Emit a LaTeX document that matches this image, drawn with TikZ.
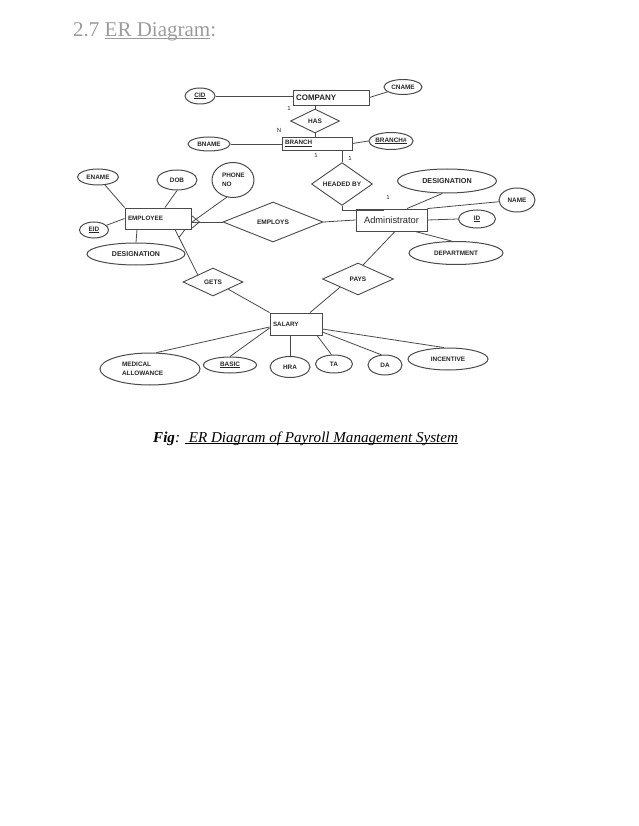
\documentclass[tikz,border=0pt]{standalone}
\usepackage{fontspec}
\setmainfont{Liberation Serif}
\newfontfamily\erfont{Liberation Sans}
\usetikzlibrary{shapes.geometric}
\definecolor{ln}{HTML}{4A4A4A}
\definecolor{txt}{HTML}{262626}
\definecolor{titlegray}{HTML}{9C9C9C}
\begin{document}
\begin{tikzpicture}[x=1pt,y=-1pt,
  attr/.style={draw=ln, line width=1pt, ellipse, inner sep=0pt, text=txt,
    font=\erfont\bfseries\fontsize{6.4}{9}\selectfont},
  ent/.style={draw=ln, line width=0.9pt, rectangle, inner xsep=3pt, inner ysep=0pt, text=txt, align=left,
    font=\erfont\bfseries\fontsize{6.3}{7.5}\selectfont},
  rel/.style={draw=ln, line width=0.9pt, diamond, inner sep=0pt, text=txt,
    font=\erfont\bfseries\fontsize{6.5}{7.5}\selectfont},
  conn/.style={draw=ln, line width=0.8pt},
  card/.style={inner sep=0pt, text=txt, font=\erfont\fontsize{6}{6}\selectfont}]
\fill[white] (0,0) rectangle (638,826);
\useasboundingbox (0,0) rectangle (638,826);

% title
\node[anchor=base west, inner sep=0pt, text=titlegray, font=\fontsize{21}{24}\selectfont] (title) at (73,37) {2.7 \underline{\smash{ER Diagram}}:};

% entities
\node[ent, minimum width=76pt, minimum height=15pt, text width=70pt, font=\erfont\bfseries\fontsize{8}{9}\selectfont] (company) at (331,97.5) {COMPANY};
\node[ent, minimum width=70pt, minimum height=13pt, text width=64pt] (branch) at (317,143.5) {\underline{BRANCH}};
\node[ent, minimum width=66pt, minimum height=21pt, text width=60pt] (emp) at (158,218.5) {EMPLOYEE\\[4pt]};
\node[ent, minimum width=71pt, minimum height=22pt, align=center, font=\erfont\fontsize{9.3}{10}\selectfont] (admin) at (391.5,220) {Administrator};
\node[ent, minimum width=52pt, minimum height=22pt, text width=46pt] (salary) at (296,324) {SALARY\\[3pt]};

% relationships
\node[rel, minimum width=49pt, minimum height=24pt] (has) at (315,121) {HAS};
\node[rel, minimum width=61pt, minimum height=25pt] (headed) at (342,184) {HEADED BY};
\node[rel, minimum width=100pt, minimum height=40pt] (employs) at (273,222) {EMPLOYS};
\node[rel, minimum width=60pt, minimum height=28pt] (gets) at (213,282) {GETS};
\node[rel, minimum width=71pt, minimum height=32pt] (pays) at (358,279) {PAYS};

% attributes
\node[attr, minimum width=30pt, minimum height=16pt] (cid) at (200,96) {\underline{CID}};
\node[attr, minimum width=38pt, minimum height=15pt] (cname) at (403,87) {CNAME};
\node[attr, minimum width=42pt, minimum height=14pt] (bname) at (209,144) {BNAME};
\node[attr, minimum width=43pt, minimum height=17pt] (branchno) at (391,141) {\underline{BRANCH\#}};
\node[attr, minimum width=41pt, minimum height=16pt] (ename) at (98,177) {ENAME};
\node[attr, minimum width=40pt, minimum height=20pt] (dob) at (177,180) {DOB};
\node[attr, minimum width=42pt, minimum height=35pt, text width=22pt, align=left] (phone) at (233,180) {PHONE\\NO};
\node[attr, minimum width=29pt, minimum height=16pt] (eid) at (94,230) {\underline{EID}};
\node[attr, minimum width=98pt, minimum height=22pt, font=\erfont\bfseries\fontsize{7}{9}\selectfont] (desigL) at (136,254) {DESIGNATION};
\node[attr, minimum width=99pt, minimum height=24pt, font=\erfont\bfseries\fontsize{7.2}{9}\selectfont] (desigR) at (447,181) {DESIGNATION};
\node[attr, minimum width=36pt, minimum height=24pt] (name) at (517,200) {NAME};
\node[attr, minimum width=37pt, minimum height=18pt] (id) at (477,219) {\underline{ID}};
\node[attr, minimum width=94pt, minimum height=23pt] (dept) at (456,253) {DEPARTMENT};
\node[attr, minimum width=100pt, minimum height=32pt, text width=56pt, align=left] (med) at (150,369) {MEDICAL\\ALLOWANCE};
\node[attr, minimum width=53pt, minimum height=16pt] (basic) at (230,365) {\underline{BASIC}};
\node[attr, minimum width=40pt, minimum height=21pt] (hra) at (290,367) {HRA};
\node[attr, minimum width=37pt, minimum height=18pt] (ta) at (334,364) {TA};
\node[attr, minimum width=34pt, minimum height=20pt] (da) at (385,365) {DA};
\node[attr, minimum width=80pt, minimum height=22pt] (inc) at (448,359) {INCENTIVE\\[3pt]};

% cardinalities
\node[card] (c1) at (289,108) {1};
\node[card] (cn) at (279,130) {N};
\node[card] (c2) at (316,155) {1};
\node[card] (c3) at (350,158) {1};
\node[card] (c4) at (388,197) {1};

% connectors
\draw[conn] (cid.east) -- (company.west |- cid.east);
\draw[conn] (company.east) -- (cname);
\draw[conn] (has.north) -- (has.north |- company.south);
\draw[conn] (has.south) -- (has.south |- branch.north);
\draw[conn] (bname.east) -- (branch.west |- bname.east);
\draw[conn] (branch.east) -- (branchno.west);
\draw[conn] (headed.north) -- (headed.north |- branch.south);
\draw[conn] (headed.south) -- ++(0,5) -| ([xshift=-8.5pt]admin.north);
\draw[conn] (desigR.250) -- ([xshift=15.5pt]admin.north);
\draw[conn] (admin.north east) -- (name);
\draw[conn] (admin.east) -- (id.west);
\draw[conn] ([xshift=23.5pt]admin.south) -- (dept.110);
\draw[conn] (employs.east) -- (admin.west);
\draw[conn] (employs.west) -- ([yshift=-3.5pt]emp.east);
\draw[conn] ([yshift=3pt]emp.east) -- ([xshift=8pt,yshift=-3.5pt]emp.east) -- ([yshift=-10pt]emp.east);
\draw[conn] (ename) -- (emp.north west);
\draw[conn] (dob.south) -- ([xshift=7pt]emp.north);
\draw[conn] (phone.250) -- ([yshift=-4pt]emp.east);
\draw[conn] (eid) -- (emp.west);
\draw[conn] ([xshift=-21pt]emp.south) -- (desigL.north);
\draw[conn] ([xshift=17pt]emp.south) -- (gets.north west);
\draw[conn] ([xshift=21pt,yshift=-8pt]emp.south) -- ([xshift=27pt]emp.south);
\draw[conn] (gets.south east) -- (salary.north west);
\draw[conn] (pays.south west) -- ([xshift=14pt]salary.north);
\draw[conn] ([xshift=3.5pt]admin.south) -- (pays.70);
\draw[conn] ([yshift=-3pt]salary.west) -- (med.69);
\draw[conn] ([yshift=-4pt]salary.west) -- (basic.north);
\draw[conn] ([xshift=-6pt]salary.south) -- (hra.north);
\draw[conn] ([xshift=21pt]salary.south) -- (ta.105);
\draw[conn] ([yshift=-8pt]salary.east) -- (da.110);
\draw[conn] ([yshift=-5pt]salary.east) -- (inc.109);

% caption
\node[anchor=base west, inner sep=0pt, text=black, font=\fontsize{15.1}{18}\selectfont\itshape] (caption) at (153,442) {\textbf{Fig}: \underline{\smash{~ER Diagram of Payroll Management System}}};
\end{tikzpicture}
\end{document}
